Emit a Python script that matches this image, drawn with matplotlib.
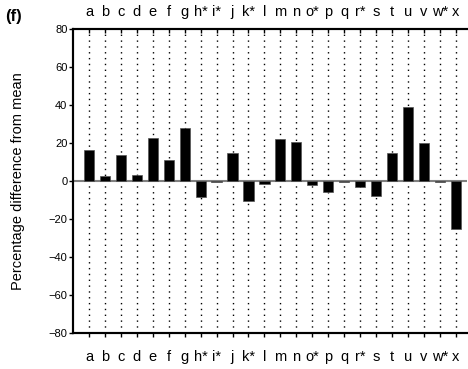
import matplotlib.pyplot as plt
import numpy as np

plt.rcParams['font.family'] = ['Liberation Sans', 'DejaVu Sans']

labels = ['a', 'b', 'c', 'd', 'e', 'f', 'g', 'h*', 'i*', 'j', 'k*', 'l',
          'm', 'n', 'o*', 'p', 'q', 'r*', 's', 't', 'u', 'v', 'w*', 'x']
values = [16.2, 2.5, 13.5, 3.0, 22.7, 11.3, 28.0, -8.5, -0.5, 14.7, -10.4, -1.4,
          22.0, 20.5, -2.0, -5.6, -0.5, -3.3, -8.0, 14.9, 39.0, 20.0, -0.3, -25.3]

x = np.arange(len(labels))

fig = plt.figure(figsize=(4.68, 3.69), dpi=100)
ax = fig.add_axes([73 / 468, 1 - 333 / 369, (467 - 73) / 468, (333 - 29) / 369])

# dotted guide line for every category
for xi in x:
    ax.plot([xi, xi], [-80, 80], color='black', lw=1.0, ls=(0, (1, 3.2)), zorder=1)

ax.axhline(0, color='#808080', lw=1.5, zorder=2)
ax.bar(x, values, width=0.64, color='black', edgecolor='#555555', lw=0.5, zorder=3)

ax.set_xlim(-1, 23.7)
ax.set_ylim(-80, 80)
ax.set_yticks(np.arange(-80, 81, 20))
ax.set_xticks(x)
ax.set_xticklabels(labels, fontsize=10.5)
ax.tick_params(axis='y', labelsize=8, direction='out', length=3, width=1, pad=1)
ax.tick_params(axis='x', direction='out', length=3, width=1, pad=9)

# same labels repeated along the top, ticks pointing inward
top = ax.twiny()
top.set_xlim(ax.get_xlim())
top.set_xticks(x)
top.set_xticklabels(labels, fontsize=10.5)
top.tick_params(axis='x', direction='in', length=3, width=1, pad=7)
for a in (ax, top):
    a.spines['right'].set_visible(False)
    for s in ['left', 'top', 'bottom']:
        a.spines[s].set_linewidth(1.5)

ax.set_ylabel('Percentage difference from mean', fontsize=10.5, labelpad=17)
fig.text(5 / 468, 1 - 17 / 369, '(f)', fontsize=12, fontweight='bold', va='center')

fig.savefig('out.png', dpi=100)
